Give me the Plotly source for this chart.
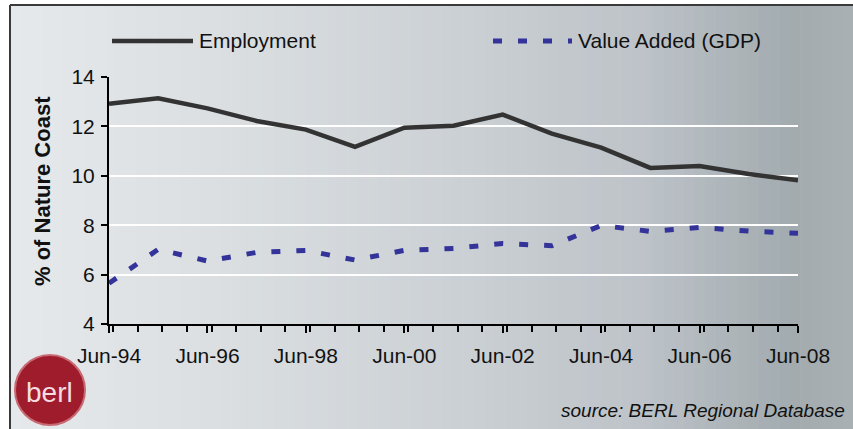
import plotly.graph_objects as go

# Annual shares of the Nature Coast economy (%)
periods = ["1994-06-01", "1995-06-01", "1996-06-01", "1997-06-01", "1998-06-01",
           "1999-06-01", "2000-06-01", "2001-06-01", "2002-06-01", "2003-06-01",
           "2004-06-01", "2005-06-01", "2006-06-01", "2007-06-01", "2008-06-01"]
employment = [12.92, 13.14, 12.73, 12.22, 11.87, 11.17, 11.95, 12.03, 12.48,
              11.71, 11.14, 10.32, 10.40, 10.07, 9.82]
value_added = [5.65, 7.02, 6.55, 6.90, 6.98, 6.59, 6.98, 7.06, 7.26, 7.17,
               7.99, 7.75, 7.91, 7.76, 7.67]
y_ticks = [4, 6, 8, 10, 12, 14]

W, H = 853, 429
ML, MR, MT, MB = 109, 55, 77, 105
PW, PH = W - ML - MR, H - MT - MB


def px(x):
    return (x - ML) / PW


def py(y):
    return 1 - (y - MT) / PH


fig = go.Figure()
fig.add_trace(go.Scatter(x=periods, y=employment, mode="lines", name="Employment",
                         line=dict(color="#333333", width=4.5)))
fig.add_trace(go.Scatter(x=periods, y=value_added, mode="lines", name="Value Added (GDP)",
                         line=dict(color="#333399", width=5, dash="9px,16px")))

shapes = []
# grey panel shading, light on the left and darker towards the right edge
stops = [(10, (229, 233, 235)), (250, (217, 221, 224)), (450, (204, 209, 213)),
         (650, (188, 194, 199)), (790, (162, 171, 175)), (853, (168, 176, 179))]
n = 80
for i in range(n):
    x0 = 10 + (W - 10) * i / n
    x1 = 10 + (W - 10) * (i + 1) / n + 0.6
    xm = (x0 + x1) / 2
    for (a, ca), (b, cb) in zip(stops[:-1], stops[1:]):
        if a <= xm <= b:
            t = (xm - a) / (b - a)
            c = tuple(int(round(ca[k] + (cb[k] - ca[k]) * t)) for k in range(3))
            break
    shapes.append(dict(type="rect", xref="paper", yref="paper", layer="below",
                       x0=px(x0), x1=px(x1), y0=py(H + 5), y1=py(5),
                       fillcolor="rgb(%d,%d,%d)" % c, line=dict(width=0)))
# frame edges
shapes.append(dict(type="line", xref="paper", yref="paper", x0=px(10), x1=px(W + 5),
                   y0=py(5), y1=py(5), line=dict(color="#3a3a3a", width=2)))
shapes.append(dict(type="line", xref="paper", yref="paper", x0=px(10), x1=px(10),
                   y0=py(5), y1=py(H + 5), line=dict(color="#3a3a3a", width=2)))
# legend samples
shapes.append(dict(type="line", xref="paper", yref="paper", x0=px(112), x1=px(193),
                   y0=py(41), y1=py(41), line=dict(color="#333333", width=4.5)))
shapes.append(dict(type="line", xref="paper", yref="paper", x0=px(493), x1=px(572),
                   y0=py(41), y1=py(41), line=dict(color="#333399", width=5, dash="9px,16px")))
# logo badge
shapes.append(dict(type="circle", xref="paper", yref="paper", x0=px(15), x1=px(85),
                   y0=py(425), y1=py(355), fillcolor="#9e1c2c",
                   line=dict(color="#c86a74", width=2)))

annotations = [
    dict(text="Employment", xref="paper", yref="paper", x=px(197), y=py(41),
         xanchor="left", yanchor="middle", showarrow=False,
         font=dict(size=21, color="#111111")),
    dict(text="Value Added (GDP)", xref="paper", yref="paper", x=px(576), y=py(41),
         xanchor="left", yanchor="middle", showarrow=False,
         font=dict(size=21, color="#111111")),
    dict(text="<b>% of Nature Coast</b>", xref="paper", yref="paper", x=px(42), y=py(191),
         xanchor="center", yanchor="middle", showarrow=False, textangle=-90,
         font=dict(size=22, color="#111111")),
    dict(text="<i>source: BERL Regional Database</i>", xref="paper", yref="paper",
         x=px(847), y=py(410), xanchor="right", yanchor="middle", showarrow=False,
         font=dict(size=19, color="#111111")),
    dict(text="berl", xref="paper", yref="paper", x=px(50), y=py(392),
         xanchor="center", yanchor="middle", showarrow=False,
         font=dict(size=28, color="#f4dde0", family="Liberation Sans")),
]

fig.update_layout(
    width=W, height=H,
    margin=dict(l=ML, r=MR, t=MT, b=MB, pad=0),
    paper_bgcolor="white",
    plot_bgcolor="rgba(0,0,0,0)",
    showlegend=False,
    font=dict(family="Liberation Sans, Arial, sans-serif", size=21, color="#111111"),
    shapes=shapes,
    annotations=annotations,
    xaxis=dict(
        type="date",
        range=[periods[0], periods[-1]],
        tick0=periods[0], dtick="M24", tickformat="%b-%y",
        ticks="outside", ticklen=7, tickwidth=2, tickcolor="black",
        showline=True, linecolor="black", linewidth=2,
        showgrid=False, zeroline=False,
        minor=dict(dtick="M6", ticks="outside", ticklen=6, tickwidth=2,
                   tickcolor="black", showgrid=False),
        tickfont=dict(size=21), ticklabelstandoff=5,
    ),
    yaxis=dict(
        range=[4, 14], tickvals=y_ticks,
        ticks="outside", ticklen=6, tickwidth=2, tickcolor="black",
        showline=True, linecolor="black", linewidth=2,
        showgrid=True, gridcolor="white", gridwidth=2, zeroline=False,
        tickfont=dict(size=21), ticklabelstandoff=2,
    ),
)

fig.write_html("out.html")
